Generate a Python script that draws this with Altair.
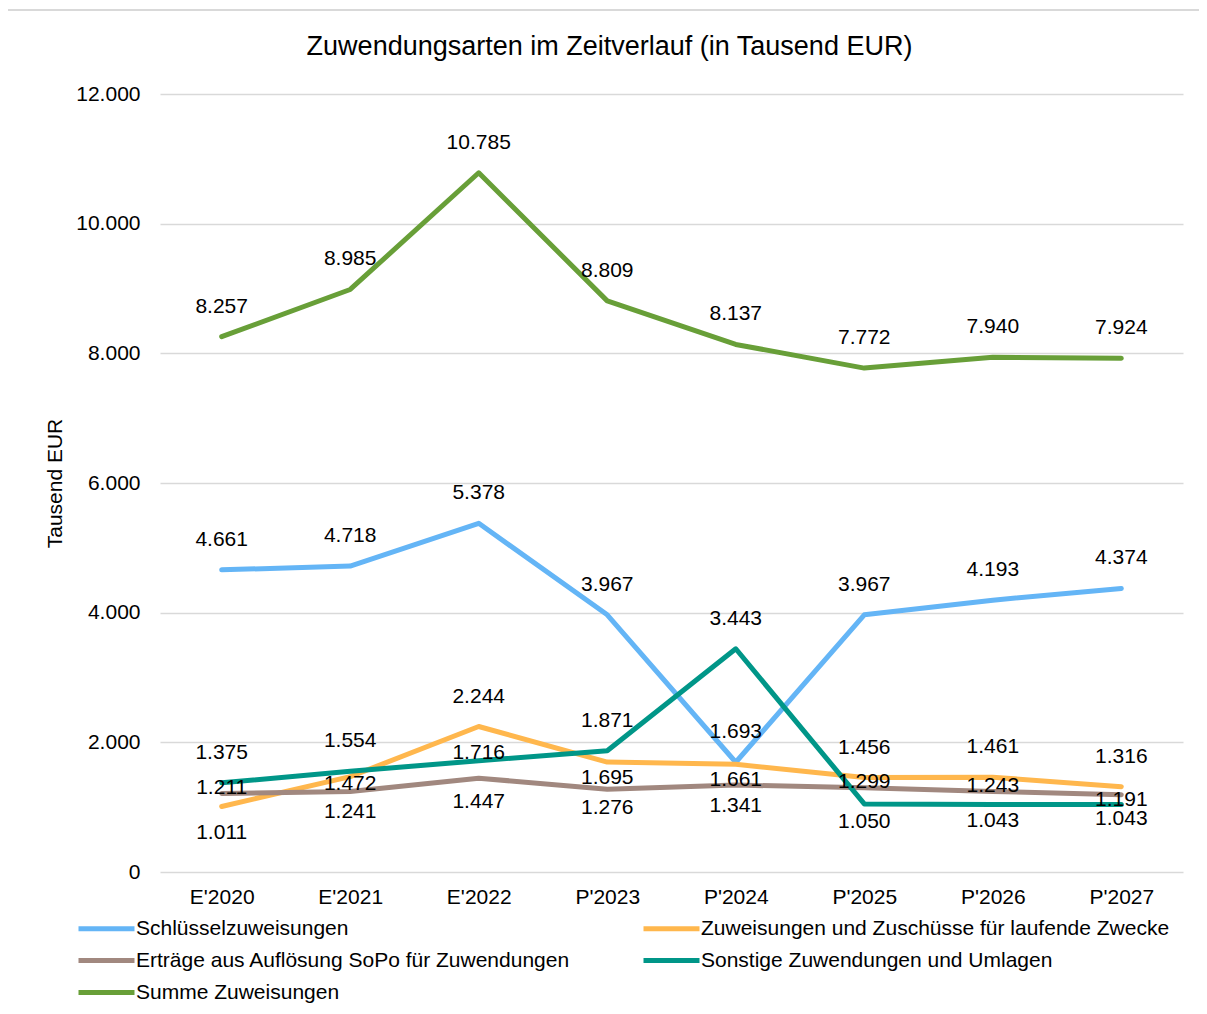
import altair as alt
import pandas as pd

# ---------------- data ----------------
years = ["E'2020", "E'2021", "E'2022", "P'2023", "P'2024", "P'2025", "P'2026", "P'2027"]
series_names = [
    "Schlüsselzuweisungen",
    "Zuweisungen und Zuschüsse für laufende Zwecke",
    "Erträge aus Auflösung SoPo für Zuwendungen",
    "Sonstige Zuwendungen und Umlagen",
    "Summe Zuweisungen",
]
schluessel = [4661, 4718, 5378, 3967, 1693, 3967, 4193, 4374]
zuweisungen = [1011, 1472, 2244, 1695, 1661, 1456, 1461, 1316]
ertraege = [1211, 1241, 1447, 1276, 1341, 1299, 1243, 1191]
sonstige = [1375, 1554, 1716, 1871, 3443, 1050, 1043, 1043]
summe = [8257, 8985, 10785, 8809, 8137, 7772, 7940, 7924]
y_ticks = [0, 2000, 4000, 6000, 8000, 10000, 12000]

# ---------------- style ----------------
colors = ["#64B5F6", "#FFB74D", "#A1887F", "#009688", "#689F38"]
FONT = "Liberation Sans"
FS = 21
# vertical pixel offsets of the value labels (label placement, not data)
label_dy = {
    series_names[0]: [-30, -30, -30, -30, -30, -30, -30, -30],
    series_names[1]: [27, 7, -30, 16, 16, -30, -30, -30],
    series_names[2]: [-5, 20, 24, 19, 21, -6, -5, 5],
    series_names[3]: [-30, -30, -8, -30, -30, 18, 17, 15],
    series_names[4]: [-30, -30, -30, -30, -30, -30, -30, -30],
}

values = [schluessel, zuweisungen, ertraege, sonstige, summe]
rows = []
for s, vals in zip(series_names, values):
    for i, (yr, v) in enumerate(zip(years, vals)):
        rows.append({
            "Jahr": yr,
            "Serie": s,
            "Wert": v,
            "Label": f"{v:,}".replace(",", "."),
            "dy": label_dy[s][i],
        })
df = pd.DataFrame(rows)

W, H = 1023, 778
YMAX = 12000

x_enc = alt.X(
    "Jahr:N",
    sort=years,
    scale=alt.Scale(type="point", padding=0.48),
    axis=alt.Axis(
        title=None, labelAngle=0, labelFontSize=FS, labelFont=FONT,
        labelColor="#000000", labelPadding=14, ticks=False, domain=False,
        grid=False,
    ),
)
y_scale = alt.Scale(domain=[0, YMAX], nice=False)
y_enc = alt.Y(
    "Wert:Q",
    scale=y_scale,
    axis=alt.Axis(
        title="Tausend EUR", values=y_ticks,
        labelExpr="replace(format(datum.value, ','), ',', '.')",
        labelFontSize=FS, labelFont=FONT, labelColor="#000000",
        labelPadding=20, ticks=False, domain=False,
        gridColor="#d9d9d9", gridWidth=1.5,
        titleFontSize=FS, titleFont=FONT, titleFontWeight="normal",
        titleColor="#000000", titleAngle=-90, titleX=-105, titleY=H / 2,
        titleAlign="center", titleBaseline="middle",
    ),
)
color_enc = alt.Color(
    "Serie:N",
    sort=series_names,
    scale=alt.Scale(domain=series_names, range=colors),
    legend=alt.Legend(
        title=None, orient="none", legendX=-84, legendY=822,
        direction="horizontal", columns=2, columnPadding=62, rowPadding=9,
        symbolType="M-1,0H4.6", symbolSize=400, symbolStrokeWidth=5,
        labelFontSize=FS, labelFont=FONT, labelColor="#000000",
        labelOffset=35, labelLimit=700,
    ),
)

base = alt.Chart(df)

lines = base.mark_line(strokeWidth=5, strokeCap="round", strokeJoin="round").encode(
    x=x_enc, y=y_enc, color=color_enc, order=alt.Order("Jahr:N")
)

labels = base.transform_calculate(
    ly=f"datum.Wert - datum.dy * {YMAX} / {H}"
).mark_text(
    fontSize=FS, font=FONT, color="#000000", baseline="middle", align="center"
).encode(
    x=alt.X("Jahr:N", sort=years),
    y=alt.Y("ly:Q", scale=y_scale),
    text="Label:N",
)

frame = alt.Chart(pd.DataFrame({"f": [0]})).mark_rect(
    fill=None, stroke="#d9d9d9", strokeWidth=2, clip=False
).encode(
    x=alt.value(-153), x2=alt.value(1100),
    y=alt.value(-84), y2=alt.value(960),
)

chart = (
    alt.layer(frame, lines, labels)
    .properties(
        width=W, height=H,
        title=alt.TitleParams(
            "Zuwendungsarten im Zeitverlauf (in Tausend EUR)",
            fontSize=27, font=FONT, fontWeight="normal", color="#000000",
            anchor="middle", frame="group", dx=-62, baseline="middle",
            offset=-65,
        ),
        autosize=alt.AutoSizeParams(type="none"),
        padding={"left": 152, "top": 86, "right": 16, "bottom": 134},
    )
    .configure_view(stroke=None)
)

chart.save("out.html", embed_options={"renderer": "svg", "actions": False})
